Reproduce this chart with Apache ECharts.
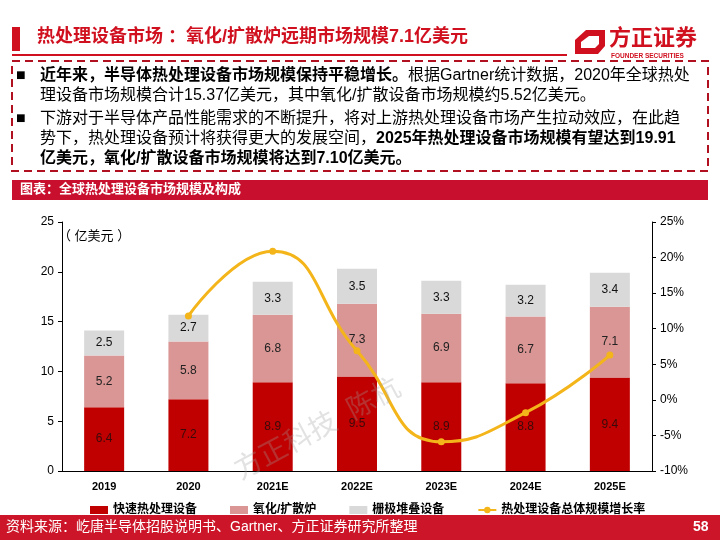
<!DOCTYPE html>
<html>
<head>
<meta charset="utf-8">
<script src="https://cdn.jsdelivr.net/npm/echarts@6/dist/echarts.min.js"></script>
<style>
  html, body { margin: 0; padding: 0; background: #fff; }
  #main { width: 720px; height: 540px; }
</style>
</head>
<body>
<div id="main"></div>
<script>
const years = ['2019', '2020', '2021E', '2022E', '2023E', '2024E', '2025E'];
const rtpValues = [6.4, 7.2, 8.9, 9.5, 8.9, 8.8, 9.4];      // 快速热处理设备
const furnaceValues = [5.2, 5.8, 6.8, 7.3, 6.9, 6.7, 7.1];  // 氧化/扩散炉
const gateValues = [2.5, 2.7, 3.3, 3.5, 3.3, 3.2, 3.4];     // 栅极堆叠设备
const growthRate = [null, 11.8, 20.9, 6.9, -5.9, -1.8, 6.3]; // 增长率 %

const FONT = "'Liberation Sans','Noto Sans CJK SC',sans-serif";
const RED = '#C00000';

const myChart = echarts.init(document.getElementById('main'));

const boxRich = {
  b: { fontFamily: FONT, fontSize: 16, fontWeight: 'bold', color: '#000' },
  n: { fontFamily: FONT, fontSize: 16, color: '#000' }
};

function boxLine(x, y, text) {
  return {
    type: 'text', left: x, top: y,
    style: { text: text, rich: boxRich, fontFamily: FONT, fontSize: 16 }
  };
}

const option = {
  backgroundColor: '#fff',
  animation: false,
  textStyle: { fontFamily: FONT },
  graphic: [
    // 标题
    { type: 'rect', shape: { x: 12, y: 27, width: 8, height: 24 }, style: { fill: '#D0101F' } },
    { type: 'text', left: 37, top: 28, style: { text: '热处理设备市场 ：氧化/扩散炉远期市场规模7.1亿美元', fontFamily: FONT, fontSize: 18, fontWeight: 'bold', fill: '#D0101F' } },
    { type: 'rect', shape: { x: 12, y: 54, width: 555, height: 2 }, style: { fill: '#D0101F' } },
    // logo
    { type: 'polygon', shape: { points: [[586, 30], [605, 30], [605, 46], [598, 54], [575, 54], [575, 40]] }, style: { fill: '#D0101F' } },
    { type: 'polygon', shape: { points: [[589, 36], [599, 36], [599, 44], [595, 48], [581, 48], [581, 42]] }, style: { fill: '#fff' } },
    { type: 'text', left: 609, top: 28, style: { text: '方正证券', fontFamily: FONT, fontSize: 22, fontWeight: 'bold', fill: '#D0101F' } },
    { type: 'text', left: 611, top: 53, style: { text: 'FOUNDER SECURITIES', fontFamily: FONT, fontSize: 6.5, fontWeight: 'bold', fill: '#D0101F' } },
    // 虚线框
    { type: 'rect', shape: { x: 12, y: 61, width: 696, height: 110 }, style: { fill: 'none', stroke: '#B01020', lineWidth: 2, lineDash: [8, 5] } },
    { type: 'text', left: 16, top: 68, style: { text: '■', fontFamily: FONT, fontSize: 16, fill: '#000' } },
    { type: 'text', left: 16, top: 111, style: { text: '■', fontFamily: FONT, fontSize: 16, fill: '#000' } },
    boxLine(40, 68, '{b|近年来，半导体热处理设备市场规模保持平稳增长。}{n|根据Gartner统计数据，2020年全球热处}'),
    boxLine(40, 88, '{n|理设备市场规模合计15.37亿美元，其中氧化/扩散设备市场规模约5.52亿美元。}'),
    boxLine(40, 111, '{n|下游对于半导体产品性能需求的不断提升，将对上游热处理设备市场产生拉动效应，在此趋}'),
    boxLine(40, 131, '{n|势下，热处理设备预计将获得更大的发展空间，}{b|2025年热处理设备市场规模有望达到19.91}'),
    boxLine(40, 151, '{b|亿美元，氧化/扩散设备市场规模将达到7.10亿美元。}'),
    // 图表标题条
    { type: 'rect', shape: { x: 12, y: 180, width: 696, height: 20 }, style: { fill: '#C8102E' } },
    { type: 'text', left: 20, top: 183, style: { text: '图表：全球热处理设备市场规模及构成', fontFamily: FONT, fontSize: 13, fontWeight: 'bold', fill: '#fff' } },
    // 单位
    { type: 'text', left: 58, top: 230, style: { text: '（ 亿美元 ）', fontFamily: FONT, fontSize: 13, fill: '#000' } },
    // 水印
    { type: 'text', x: 318, y: 430, rotation: 0.49, style: { text: '方正科技  陈杭', fontFamily: FONT, fontSize: 28, fill: 'rgba(160,160,160,0.3)', align: 'center', verticalAlign: 'middle' }, z: 100 },
    // 页脚
    { type: 'rect', shape: { x: 0, y: 515, width: 720, height: 25 }, style: { fill: '#CC1528' } },
    { type: 'text', left: 6, top: 520, style: { text: '资料来源：屹唐半导体招股说明书、Gartner、方正证券研究所整理', fontFamily: FONT, fontSize: 14, fill: '#fff' } },
    { type: 'text', left: 693, top: 520, style: { text: '58', fontFamily: FONT, fontSize: 14, fontWeight: 'bold', fill: '#fff' } }
  ],
  legend: {
    left: 85,
    top: 499,
    itemGap: 33,
    itemWidth: 18,
    itemHeight: 8,
    textStyle: { fontFamily: FONT, fontSize: 12, fontWeight: 'bold', color: '#000' },
    data: [
      { name: '快速热处理设备', icon: 'rect' },
      { name: '氧化/扩散炉', icon: 'rect' },
      { name: '栅极堆叠设备', icon: 'rect' },
      { name: '热处理设备总体规模增长率' }
    ]
  },
  grid: { left: 62, right: 68, top: 222, bottom: 69 },
  xAxis: {
    type: 'category',
    data: years,
    axisLine: { lineStyle: { color: '#000', width: 1 } },
    axisTick: { inside: true, length: 4, lineStyle: { color: '#000' } },
    axisLabel: { color: '#000', fontSize: 11, fontWeight: 'bold', margin: 10 }
  },
  yAxis: [
    {
      type: 'value', min: 0, max: 25, interval: 5,
      splitLine: { show: false },
      axisLine: { show: true, lineStyle: { color: '#000' } },
      axisTick: { show: true, length: 4, lineStyle: { color: '#000' } },
      axisLabel: { color: '#000', fontSize: 12, margin: 8 }
    },
    {
      type: 'value', min: -10, max: 25, interval: 5,
      splitLine: { show: false },
      axisLine: { show: true, lineStyle: { color: '#000' } },
      axisTick: { show: true, length: 4, lineStyle: { color: '#000' } },
      axisLabel: { color: '#000', fontSize: 12, margin: 8, formatter: '{value}%' }
    }
  ],
  series: [
    {
      name: '快速热处理设备', type: 'bar', stack: 'total', barWidth: 40,
      data: rtpValues,
      itemStyle: { color: RED },
      label: { show: true, color: '#3a0a0a', fontSize: 12 }
    },
    {
      name: '氧化/扩散炉', type: 'bar', stack: 'total', barWidth: 40,
      data: furnaceValues,
      itemStyle: { color: '#D99694' },
      label: { show: true, color: '#222', fontSize: 12 }
    },
    {
      name: '栅极堆叠设备', type: 'bar', stack: 'total', barWidth: 40,
      data: gateValues,
      itemStyle: { color: '#D9D9D9' },
      label: { show: true, color: '#111', fontSize: 12 }
    },
    {
      name: '热处理设备总体规模增长率', type: 'line', yAxisIndex: 1,
      data: growthRate,
      smooth: true,
      symbol: 'circle', symbolSize: 7,
      lineStyle: { color: '#F3B51A', width: 3 },
      itemStyle: { color: '#F3B51A' }
    }
  ]
};

myChart.setOption(option);
</script>
</body>
</html>
